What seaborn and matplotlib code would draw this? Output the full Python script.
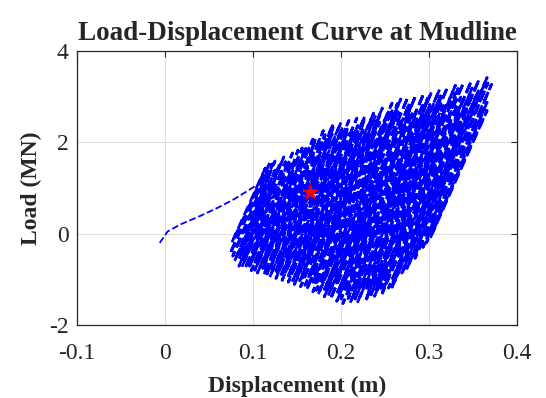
import numpy as np
import matplotlib
matplotlib.use("Agg")
import matplotlib.pyplot as plt
import seaborn as sns

#Data#############################################################################

#initial loading branch (m, MN)
init_disp = [-0.006, 0.003, 0.017, 0.040, 0.060, 0.077, 0.094, 0.108, 0.114, 0.119]
init_load = [-0.20, 0.05, 0.20, 0.39, 0.57, 0.74, 0.94, 1.11, 1.30, 1.55]

#first run of cycles: trough then peak, drifting to the right
trough_disp = [0.076, 0.074, 0.077, 0.079, 0.084, 0.084, 0.088, 0.091, 0.096, 0.098,
               0.102, 0.105, 0.111, 0.112, 0.116, 0.119, 0.125, 0.126, 0.131, 0.133,
               0.140, 0.140, 0.145, 0.147, 0.153, 0.154, 0.159, 0.161, 0.168, 0.168,
               0.172, 0.174, 0.181, 0.181, 0.186, 0.188, 0.196, 0.195, 0.200, 0.202,
               0.208, 0.210, 0.216, 0.219, 0.228, 0.228, 0.234, 0.238, 0.245, 0.247,
               0.254, 0.258, 0.269, 0.275, 0.284, 0.293, 0.302]
trough_load = [-0.19, -0.44, -0.49, -0.60, -0.55, -0.71, -0.70, -0.76, -0.71, -0.81,
               -0.80, -0.86, -0.76, -0.91, -0.88, -0.95, -0.86, -0.98, -0.95, -1.02,
               -0.92, -1.06, -1.03, -1.11, -1.03, -1.16, -1.13, -1.22, -1.06, -1.27,
               -1.24, -1.33, -1.22, -1.38, -1.33, -1.43, -1.28, -1.48, -1.43, -1.53,
               -1.42, -1.53, -1.43, -1.49, -1.25, -1.45, -1.34, -1.37, -1.20, -1.29,
               -1.19, -1.17, -0.86, -0.76, -0.54, -0.30, -0.07]
peak_disp = [0.114, 0.117, 0.125, 0.125, 0.135, 0.137, 0.145, 0.145, 0.156, 0.160,
             0.168, 0.167, 0.180, 0.182, 0.191, 0.190, 0.200, 0.202, 0.209, 0.207,
             0.218, 0.219, 0.227, 0.226, 0.237, 0.239, 0.247, 0.244, 0.258, 0.259,
             0.268, 0.265, 0.276, 0.278, 0.285, 0.282, 0.294, 0.294, 0.303, 0.301,
             0.312, 0.313, 0.321, 0.316, 0.330, 0.330, 0.339, 0.336, 0.348, 0.349,
             0.357, 0.356, 0.366, 0.367, 0.371, 0.366, 0.366]
peak_load = [1.44, 1.38, 1.59, 1.39, 1.68, 1.58, 1.77, 1.59, 1.88, 1.87,
             2.07, 1.84, 2.26, 2.17, 2.40, 2.18, 2.44, 2.34, 2.48, 2.21,
             2.53, 2.37, 2.57, 2.33, 2.64, 2.57, 2.75, 2.44, 2.86, 2.74,
             2.95, 2.67, 2.99, 2.86, 3.03, 2.68, 3.07, 2.87, 3.11, 2.83,
             3.16, 3.02, 3.21, 2.81, 3.25, 3.08, 3.30, 2.99, 3.34, 3.19,
             3.38, 3.13, 3.42, 3.30, 3.27, 2.88, 2.70]

#second run of cycles, coming back to the left (steeper branches)
back_trough_disp = [0.297, 0.283, 0.271, 0.259, 0.247, 0.240, 0.229, 0.224, 0.214,
                    0.208, 0.198, 0.195, 0.185, 0.179, 0.170, 0.165, 0.156, 0.150,
                    0.141, 0.136, 0.127, 0.120, 0.111, 0.106, 0.097, 0.091, 0.084]
back_trough_load = [-0.20, -0.55, -0.80, -1.06, -1.30, -1.25, -1.43, -1.24, -1.36,
                    -1.23, -1.33, -1.08, -1.17, -1.06, -1.13, -0.91, -0.97, -0.88,
                    -0.95, -0.77, -0.84, -0.76, -0.80, -0.63, -0.67, -0.55, -0.49]
back_peak_disp = [0.348, 0.335, 0.333, 0.319, 0.314, 0.299, 0.299, 0.285, 0.279,
                  0.266, 0.264, 0.251, 0.244, 0.230, 0.227, 0.213, 0.207, 0.195,
                  0.191, 0.179, 0.171, 0.158, 0.151, 0.138, 0.130, 0.122]
back_peak_load = [3.07, 2.78, 3.18, 2.81, 3.00, 2.58, 3.01, 2.66, 2.77,
                  2.49, 2.85, 2.52, 2.60, 2.22, 2.54, 2.19, 2.29, 2.05,
                  2.33, 2.05, 2.08, 1.80, 1.83, 1.52, 1.53, 1.53]

#marked point
mark_disp = [0.165]
mark_load = [0.92]

#cyclic part of the path: start where the initial branch ends, then the two runs
disp = [init_disp[-1]]
load = [init_load[-1]]
for td, tl, pd_, pl in zip(trough_disp, trough_load, peak_disp, peak_load):
    disp += [td, pd_]
    load += [tl, pl]
for i in range(len(back_trough_disp)):
    disp.append(back_trough_disp[i])
    load.append(back_trough_load[i])
    if i < len(back_peak_disp):
        disp.append(back_peak_disp[i])
        load.append(back_peak_load[i])

#Plot#############################################################################

sns.set_style("white")
plt.rcParams['font.family'] = ['Liberation Serif', 'DejaVu Serif']
plt.rcParams['axes.unicode_minus'] = False

fig = plt.figure(figsize=(5.46, 3.98), dpi=100)
ax = fig.add_axes([0.141, 0.183, 0.806, 0.689])

sns.lineplot(x=init_disp, y=init_load, sort=False, estimator=None, ax=ax,
             color='#0000ff', linestyle='--', linewidth=1.3)
sns.lineplot(x=disp, y=load, sort=False, estimator=None, ax=ax,
             color='#0000ff', linestyle='--', linewidth=2.0)
sns.scatterplot(x=mark_disp, y=mark_load, ax=ax, color='red', marker='*',
                s=140, edgecolor='red', linewidth=0.5, zorder=5)

ax.set_xlim(-0.1, 0.4)
ax.set_ylim(-2, 4)
ax.set_xticks([-0.1, 0, 0.1, 0.2, 0.3, 0.4])
ax.set_xticklabels(['-0.1', '0', '0.1', '0.2', '0.3', '0.4'])
ax.set_yticks([-2, 0, 2, 4])
ax.grid(True, color='#dedede', linewidth=0.8)
ax.set_axisbelow(True)
ax.tick_params(direction='in', top=True, right=True, length=4, width=0.8,
               labelsize=17, colors='#262626')
ax.tick_params(axis='x', pad=13)
ax.tick_params(axis='y', pad=6)
for s in ax.spines.values():
    s.set_color('#262626')
    s.set_linewidth(0.9)

ax.set_title('Load-Displacement Curve at Mudline', fontsize=19.5, fontweight='bold', pad=8)
ax.set_xlabel('Displacement (m)', fontsize=17, fontweight='bold', labelpad=8)
ax.set_ylabel('Load (MN)', fontsize=17, fontweight='bold', labelpad=5)

fig.savefig('out.png', dpi=100)
